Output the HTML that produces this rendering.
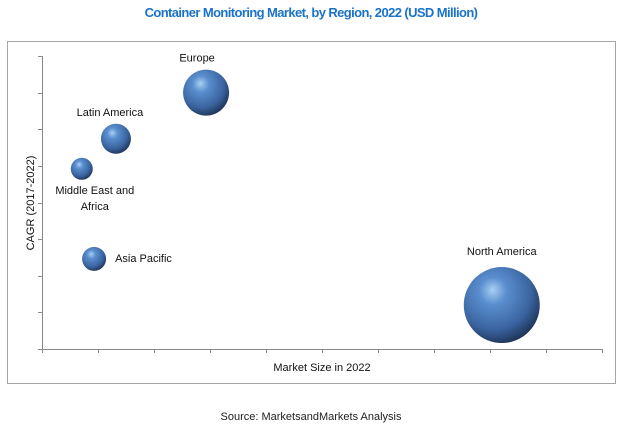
<!DOCTYPE html>
<html><head><meta charset="utf-8"><style>
body{margin:0;background:#fff;width:623px;height:431px;overflow:hidden;font-family:"Liberation Sans",sans-serif}
</style></head><body>
<svg width="623" height="431" xmlns="http://www.w3.org/2000/svg">
<defs>
<radialGradient id="g" cx="0.4" cy="0.35" r="0.7" fx="0.38" fy="0.3">
<stop offset="0" stop-color="#a9d0f5"/><stop offset="0.25" stop-color="#5b8fcf"/><stop offset="0.7" stop-color="#3a64a0"/><stop offset="1" stop-color="#1b2f4f"/>
</radialGradient>
</defs>
<text x="311" y="17" text-anchor="middle" font-size="13" font-weight="bold" fill="#1a73c8" letter-spacing="-0.6">Container Monitoring Market, by Region, 2022 (USD Million)</text>
<rect x="7.5" y="41.5" width="608" height="342" fill="none" stroke="#a6a6a6"/>
<g id="axes"></g>
<g id="bubbles"></g>
<text x="322" y="371" text-anchor="middle" font-size="11" fill="#111">Market Size in 2022</text>
<text transform="translate(34,203) rotate(-90)" text-anchor="middle" font-size="11" fill="#111">CAGR (2017-2022)</text>
<text x="311" y="420" text-anchor="middle" font-size="11" fill="#222">Source: MarketsandMarkets Analysis</text>
</svg>
<script>
const regions=["Europe","Latin America","Middle East and Africa","Asia Pacific","North America"];
const marketSize=[2.93,1.32,0.71,0.93,8.21];
const cagr=[7.0,5.74,4.92,2.46,1.2];
const bubbleSize=[23,15,11,12,38];
const xTickCount=10, yTickCount=8;
const NS="http://www.w3.org/2000/svg";
const x0=42,x1=602,y0=349,y1=56;
const xs=v=>x0+v*(x1-x0)/xTickCount;
const ys=v=>y0-v*(y0-y1)/yTickCount;
const ax=document.getElementById('axes');
function mk(t,a,p){const e=document.createElementNS(NS,t);for(const k in a)e.setAttribute(k,a[k]);p.appendChild(e);return e;}
let l=mk('line',{x1:x0,y1:y0+0.5,x2:x1+1,y2:y0+0.5,stroke:'#888'},ax);


l=mk('line',{x1:x0+0.5,y1:y1,x2:x0+0.5,y2:y0,stroke:'#888'},ax);


for(let i=0;i<=xTickCount;i++){const x=Math.round(xs(i))+0.5;const t=mk('line',{x1:x,y1:y0,x2:x,y2:y0+4,stroke:'#888'},ax);

}
for(let i=0;i<=yTickCount;i++){const y=Math.round(ys(i))+0.5;const t=mk('line',{x1:x0-4,y1:y,x2:x0,y2:y,stroke:'#888'},ax);

}
const bg=document.getElementById('bubbles');
regions.forEach((r,i)=>{
const cx=xs(marketSize[i]),cy=ys(cagr[i]),rr=bubbleSize[i];
const c=mk('ellipse',{cx:cx,cy:cy,rx:rr,ry:rr,fill:'url(#g)'},bg);


let lines=[r],lx=cx,ly=cy-rr-10,anchor='middle';
if(r==="Middle East and Africa"){lines=["Middle East and","Africa"];lx=cx+13;ly=cy+25;}
if(r==="Asia Pacific"){lx=cx+rr+9;ly=cy+3;anchor='start';}
if(r==="Europe"){lx=cx-9;ly=cy-31;}
if(r==="Latin America"){lx=cx-6;ly=cy-23;}
if(r==="North America"){ly=cy-50;}
lines.forEach((s,j)=>{const t=mk('text',{x:lx,y:ly+j*16,'text-anchor':anchor,'font-size':11,fill:'#111'},bg);t.textContent=s;

});
});
</script>
</body></html>
